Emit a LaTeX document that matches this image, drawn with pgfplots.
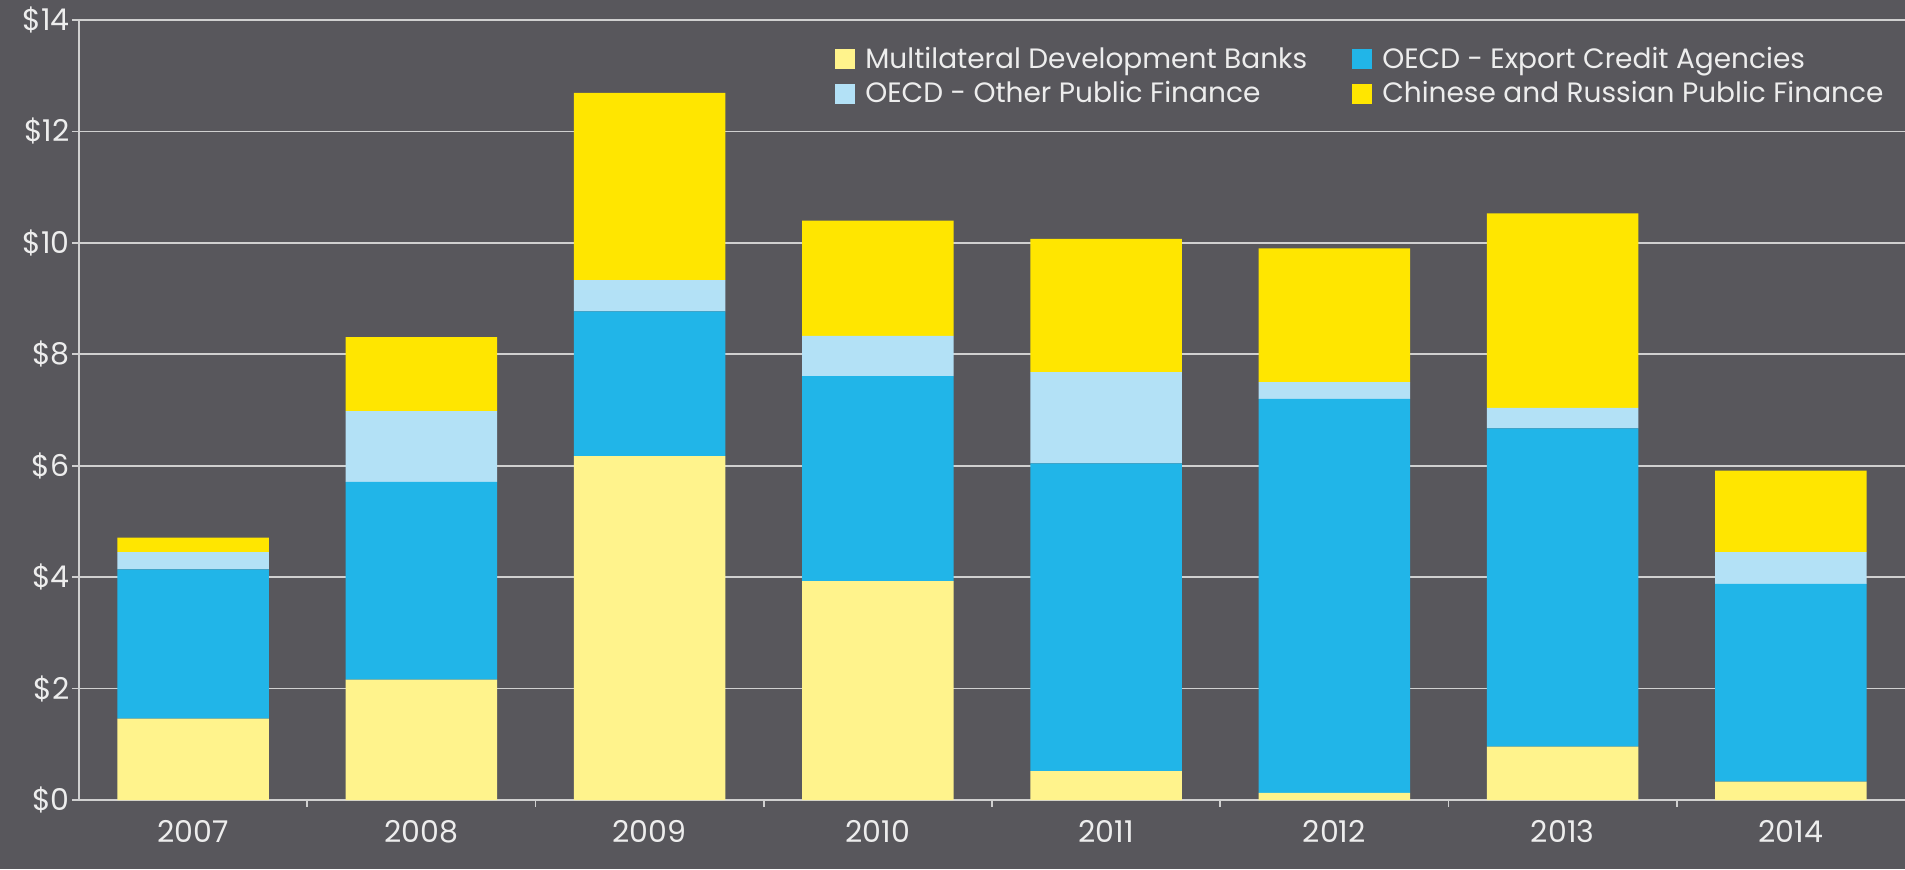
\documentclass[border=0pt]{standalone}
\usepackage{fontspec}
\setmainfont{Poppins}
\usepackage{pgfplots}
\usepackage{pgfplotstable}
\pgfplotsset{compat=1.18}
\definecolor{bg}{HTML}{58575C}
\definecolor{mdb}{HTML}{FFF38C}
\definecolor{eca}{HTML}{21B5E8}
\definecolor{oth}{HTML}{B3E1F6}
\definecolor{cr}{HTML}{FFE600}
\definecolor{txt}{HTML}{EDEDED}
\definecolor{grd}{HTML}{D0D0D0}
\pgfplotstableread{
x mdb eca oth cr
0 1.46 2.68 0.31 0.26
1 2.16 3.55 1.27 1.33
2 6.17 2.60 0.56 3.36
3 3.93 3.68 0.72 2.07
4 0.52 5.52 1.64 2.39
5 0.13 7.07 0.30 2.40
6 0.96 5.71 0.37 3.49
7 0.33 3.55 0.57 1.46
}\datatable
\begin{document}
\begin{tikzpicture}
\fill[bg] (-39.5pt,-34.5pt) rectangle (913pt,400pt);
\begin{axis}[
  at={(0,0)}, anchor=south west,
  scale only axis, width=913pt, height=390pt,
  xmin=-0.5, xmax=7.5, ymin=0, ymax=14,
  ybar stacked, bar width=0.664,
  axis x line*=bottom, axis y line*=left,
  axis line style={grd, line width=0.8pt, -},
  xtick={0,...,7},
  xticklabels={2007,2008,2009,2010,2011,2012,2013,2014},
  major x tick style={draw=none},
  minor xtick={0.5,1.5,...,6.5},
  ytick={0,2,...,14},
  yticklabel={\$\pgfmathprintnumber{\tick}},
  /pgf/number format/assume math mode=true,
  ymajorgrids, grid style={grd, line width=0.8pt},
  tick style={grd, line width=0.8pt},
  tick align=outside, major tick length=3.5pt, minor tick length=3.5pt,
  ticklabel style={font=\fontsize{15}{17}\selectfont, text=txt},
  yticklabel style={inner sep=1pt},
  xticklabel style={yshift=-3pt},
  legend columns=2,
  legend cell align=left,
  legend style={at={(0.414,0.972)}, anchor=north west, draw=none, fill=none,
    inner sep=0pt, text=txt, font=\fontsize{14}{16}\selectfont,
    nodes={inner sep=2.5pt},
    /tikz/every even column/.append style={column sep=20pt}, row sep=0pt},
  legend image code/.code={\fill[#1,draw=none] (0pt,-5pt) rectangle (10pt,5pt); \path (12.5pt,0pt);},
]
\addplot[fill=mdb, draw=none] table[x=x, y=mdb] {\datatable};
\addlegendentry{Multilateral Development Banks}
\addplot[fill=eca, draw=none] table[x=x, y=eca] {\datatable};
\addlegendentry{OECD - Export Credit Agencies}
\addplot[fill=oth, draw=none] table[x=x, y=oth] {\datatable};
\addlegendentry{OECD - Other Public Finance}
\addplot[fill=cr, draw=none] table[x=x, y=cr] {\datatable};
\addlegendentry{Chinese and Russian Public Finance}
\end{axis}
\pgfresetboundingbox
\path[use as bounding box] (-39.5pt,-34.5pt) rectangle (913pt,400pt);
\end{tikzpicture}
\end{document}
